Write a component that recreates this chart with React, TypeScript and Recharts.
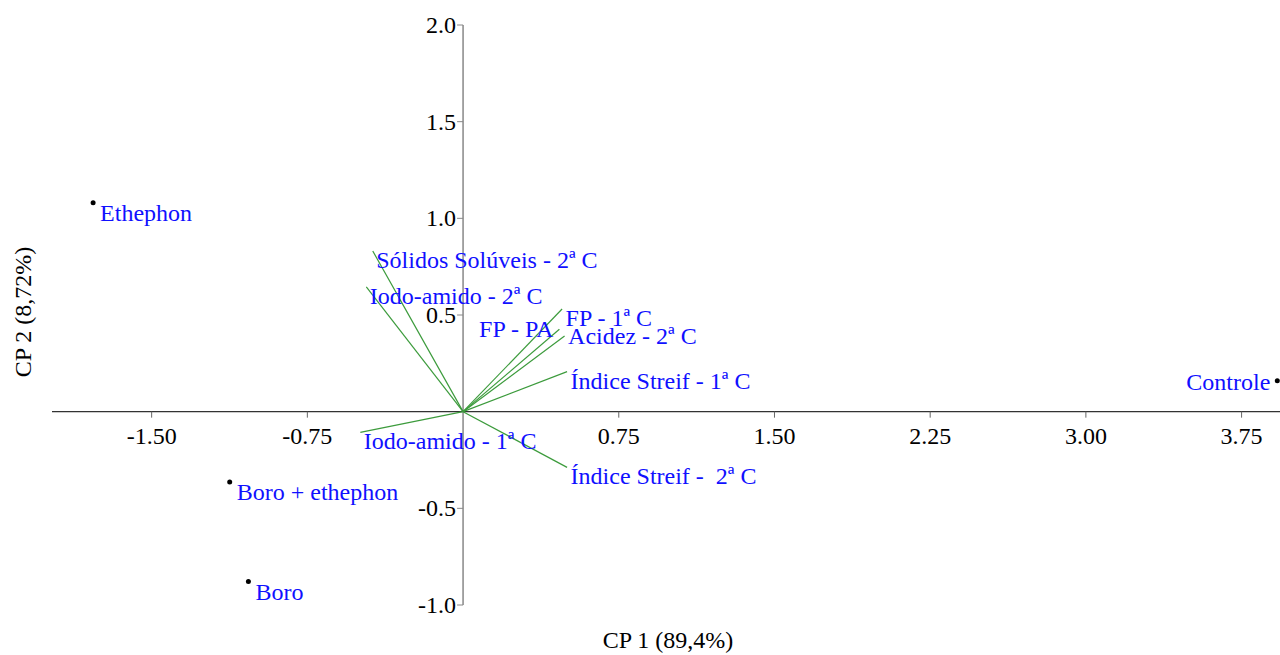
import { ScatterChart, Scatter, XAxis, YAxis, ReferenceLine } from 'recharts';

// treatment scores
const pointNames = ['Ethephon', 'Boro + ethephon', 'Boro', 'Controle'];
const pointX = [-1.782, -1.124, -1.034, 3.922];
const pointY = [1.081, -0.364, -0.879, 0.16];

// variable loadings (vectors from the origin)
const vectorNames = [
	'Sólidos Solúveis - 2ª C',
	'Iodo-amido - 2ª C',
	'FP - 1ª C',
	'FP - PA',
	'Acidez - 2ª C',
	'Índice Streif - 1ª C',
	'Iodo-amido - 1ª C',
	'Índice Streif -  2ª C',
];
const vectorX = [-0.435, -0.466, 0.477, 0.464, 0.489, 0.501, -0.495, 0.501];
const vectorY = [0.831, 0.646, 0.531, 0.426, 0.391, 0.207, -0.107, -0.288];

const xTickValues = [-1.5, -0.75, 0.75, 1.5, 2.25, 3.0, 3.75];
const xTickLabels = ['-1.50', '-0.75', '0.75', '1.50', '2.25', '3.00', '3.75'];
const yTickValues = [-1.0, -0.5, 0.5, 1.0, 1.5, 2.0];
const yTickLabels = ['-1.0', '-0.5', '0.5', '1.0', '1.5', '2.0'];

const X_DOMAIN: [number, number] = [-1.98, 3.935];
const Y_DOMAIN: [number, number] = [-1.0, 2.0];

const FONT = '"Liberation Serif", "Times New Roman", serif';
const BLUE = '#1010ff';
const GREEN = '#3c9b3c';

const points = pointNames.map((name, i) => ({ name, x: pointX[i], y: pointY[i] }));
const vectors = vectorNames.map((name, i) => ({ name, x: vectorX[i], y: vectorY[i] }));
const xTicks = xTickValues.map((v, i) => ({ x: v, y: 0, label: xTickLabels[i] }));
const yTicks = yTickValues.map((v, i) => ({ x: 0, y: v, label: yTickLabels[i] }));

const PointShape = (props: any) => {
	const { cx, cy, payload } = props;
	const right = payload.name === 'Controle';
	return (
		<g>
			<circle cx={cx} cy={cy} r={2.5} fill="#000" />
			<text
				x={right ? cx - 7 : cx + 7}
				y={right ? cy + 9 : cy + 18}
				textAnchor={right ? 'end' : 'start'}
				fill={BLUE}
				fontSize={24}
				fontFamily={FONT}
			>
				{payload.name}
			</text>
		</g>
	);
};

const VectorLabel = (props: any) => {
	const { cx, cy, payload } = props;
	let dx = 3.5;
	let dy = 17;
	let anchor = 'start';
	if (payload.name === 'FP - PA') {
		dx = -6;
		dy = 8;
		anchor = 'end';
	} else if (payload.name === 'Acidez - 2ª C') {
		dy = 8;
	}
	return (
		<text
			x={cx + dx}
			y={cy + dy}
			textAnchor={anchor}
			fill={BLUE}
			fontSize={24}
			fontFamily={FONT}
			style={{ whiteSpace: 'pre' }}
		>
			{payload.name}
		</text>
	);
};

const XTick = (props: any) => {
	const { cx, cy, payload } = props;
	return (
		<g>
			<line x1={cx} y1={cy} x2={cx} y2={cy + 6} stroke="#666" strokeWidth={1} />
			<text x={cx} y={cy + 32} textAnchor="middle" fill="#000" fontSize={24} fontFamily={FONT}>
				{payload.label}
			</text>
		</g>
	);
};

const YTick = (props: any) => {
	const { cx, cy, payload } = props;
	return (
		<g>
			<line x1={cx - 6} y1={cy} x2={cx} y2={cy} stroke="#888" strokeWidth={1} />
			<text x={cx - 7} y={cy + 8} textAnchor="end" fill="#000" fontSize={24} fontFamily={FONT}>
				{payload.label}
			</text>
		</g>
	);
};

export default function App() {
	return (
		<div style={{ position: 'absolute', left: 0, top: 0, width: 1280, height: 655, background: '#fff' }}>
			<ScatterChart
				width={1280}
				height={655}
				margin={{ top: 25, right: 0, bottom: 50, left: 52 }}
				style={{ overflow: 'visible' }}
			>
				<XAxis type="number" dataKey="x" domain={X_DOMAIN} hide />
				<YAxis type="number" dataKey="y" domain={Y_DOMAIN} hide />
				<ReferenceLine y={0} stroke="#333" strokeWidth={1.2} />
				<ReferenceLine
					segment={[{ x: 0, y: Y_DOMAIN[0] }, { x: 0, y: Y_DOMAIN[1] }]}
					stroke="#888"
					strokeWidth={1.5}
				/>
				{vectors.map((v) => (
					<ReferenceLine
						key={v.name}
						segment={[{ x: 0, y: 0 }, { x: v.x, y: v.y }]}
						stroke={GREEN}
						strokeWidth={1.2}
					/>
				))}
				<Scatter data={xTicks} shape={XTick} isAnimationActive={false} />
				<Scatter data={yTicks} shape={YTick} isAnimationActive={false} />
				<Scatter data={vectors} shape={VectorLabel} isAnimationActive={false} />
				<Scatter data={points} shape={PointShape} isAnimationActive={false} />
			</ScatterChart>
			<svg
				width={1280}
				height={655}
				style={{ position: 'absolute', left: 0, top: 0, pointerEvents: 'none' }}
			>
				<text x={668} y={648} textAnchor="middle" fontSize={24} fontFamily={FONT} fill="#000">
					CP 1 (89,4%)
				</text>
				<text
					transform="translate(31,312) rotate(-90)"
					textAnchor="middle"
					fontSize={24}
					fontFamily={FONT}
					fill="#000"
				>
					CP 2 (8,72%)
				</text>
			</svg>
		</div>
	);
}
